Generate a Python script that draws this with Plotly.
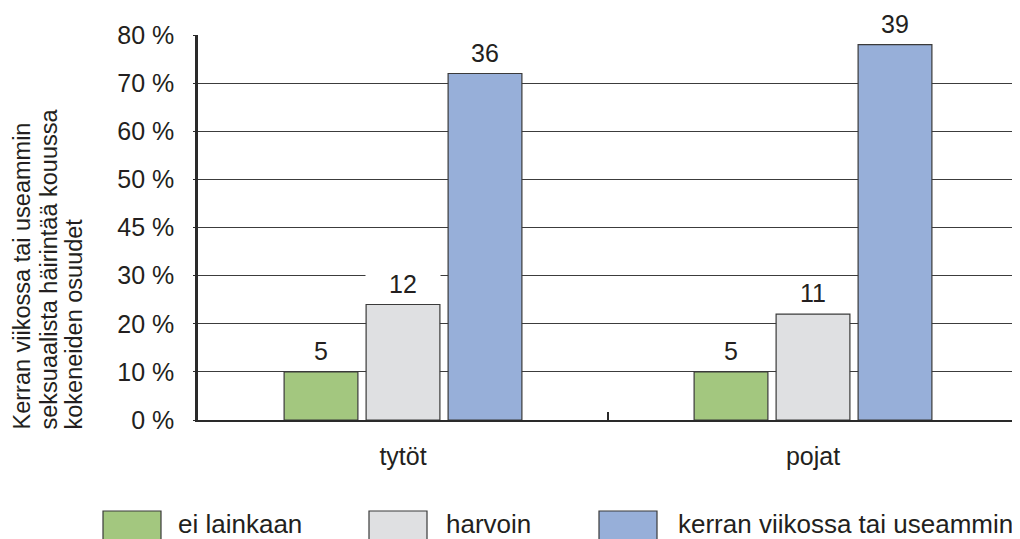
import plotly.graph_objects as go

categories = ["tytöt", "pojat"]
series_names = ["ei lainkaan", "harvoin", "kerran viikossa tai useammin"]
series_values = {
    "ei lainkaan": [5, 5],
    "harvoin": [12, 11],
    "kerran viikossa tai useammin": [36, 39],
}
colors = ["#a3c77f", "#dfe0e2", "#97afd9"]
tick_vals = [0, 5, 10, 15, 20, 25, 30, 35, 40]
tick_text = ["0 %", "10 %", "20 %", "30 %", "45 %", "50 %", "60 %", "70 %", "80 %"]
y_title_lines = ["Kerran viikossa tai useammin", "seksuaalista häirintää kouussa", "kokeneiden osuudet"]

OFF = 8  # page body margin
W, H = 1020 - OFF, 539 - OFF
L, R, T, B = 198 - OFF, 1018 - OFF, 35 - OFF, 420 - OFF
FONT = "Liberation Sans, Arial, Helvetica, sans-serif"
TXT = "#231f20"
EDGE = "#3a3a3a"


def px(x):
    return (x - OFF - L) / (R - L)


def py(y):
    return (B - (y - OFF)) / (B - T)


fig = go.Figure()
for name, col in zip(series_names, colors):
    fig.add_trace(go.Bar(
        x=categories, y=series_values[name], name=name,
        marker=dict(color=col, line=dict(color=EDGE, width=1.2)),
        showlegend=False,
    ))

annotations = []
offsets = [-0.2, 0.0, 0.2]
for j, name in enumerate(series_names):
    for i, v in enumerate(series_values[name]):
        annotations.append(dict(
            x=i + offsets[j], y=v, xref="x", yref="y", text=str(v),
            showarrow=False, xanchor="center", yanchor="bottom", yshift=5,
            font=dict(family=FONT, size=25, color=TXT),
            bgcolor="white", width=72, borderpad=1,
        ))

# rotated y-axis title, three left-aligned lines
for xc, line in zip([21, 48, 73], y_title_lines):
    annotations.append(dict(
        x=px(xc), y=py(432), xref="paper", yref="paper", text=line,
        textangle=-90, showarrow=False, xanchor="center", yanchor="bottom",
        font=dict(family=FONT, size=23.5, color=TXT),
    ))

# legend drawn manually
shapes = []
legend_items = [(103, 161, 176), (369, 427, 444), (599, 657, 676)]
for (x0, x1, xt), name, col in zip(legend_items, series_names, colors):
    shapes.append(dict(type="rect", xref="paper", yref="paper",
                       x0=px(x0), x1=px(x1), y0=py(511), y1=py(550),
                       fillcolor=col, line=dict(color=EDGE, width=1.2)))
    annotations.append(dict(
        x=px(xt), y=py(524), xref="paper", yref="paper", text=name,
        showarrow=False, xanchor="left", yanchor="middle",
        font=dict(family=FONT, size=26, color=TXT),
    ))

fig.update_layout(
    width=W, height=H,
    margin=dict(l=L, r=W - R, t=T, b=H - B, pad=0),
    paper_bgcolor="white", plot_bgcolor="white",
    barmode="group", bargap=0.4, bargroupgap=0.1,
    font=dict(family=FONT, size=25, color=TXT),
    annotations=annotations, shapes=shapes,
)
fig.update_xaxes(
    showline=True, linecolor="#2a2a2a", linewidth=2,
    ticks="inside", tickson="boundaries", ticklen=8, tickcolor="#2a2a2a", tickwidth=2,
    showgrid=False, ticklabelstandoff=13,
    tickfont=dict(family=FONT, size=25, color=TXT),
)
fig.update_yaxes(
    range=[0, 40], tickvals=tick_vals, ticktext=tick_text,
    showline=True, linecolor="#2a2a2a", linewidth=2.5,
    ticks="outside", ticklen=2, tickcolor="#2a2a2a",
    showgrid=True, gridcolor="#3c3c3c", gridwidth=1.2,
    zeroline=False, ticklabelstandoff=14,
    tickfont=dict(family=FONT, size=25, color=TXT),
)

fig.write_html("out.html")
